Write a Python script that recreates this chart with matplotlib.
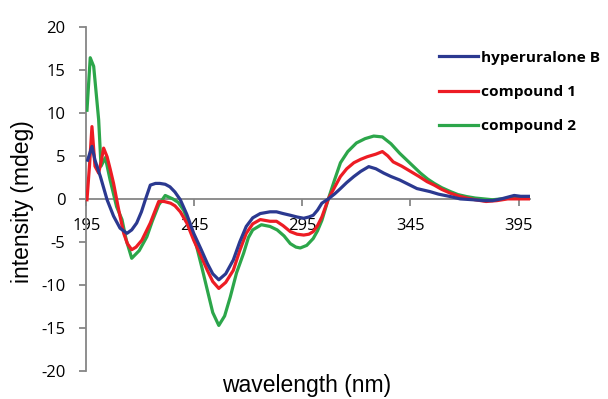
import matplotlib
matplotlib.use("Agg")
import matplotlib.pyplot as plt

plt.rcParams["axes.unicode_minus"] = False

# ---- data ----
hyp_wl = [195.6, 197.6, 199, 201.5, 204.6, 207.6, 210.6, 213.8, 216, 218.3, 220.5, 222.3, 224.6, 227, 229,
          231.5, 233.7, 236, 238.5, 241.5, 244.7, 248, 251, 253.5, 256.3, 259.5, 263, 266, 269, 272,
          275.5, 280, 283, 286, 289.4, 292.5, 295.6, 298, 300, 302, 304, 307, 310, 312.6, 315.5,
          318.8, 322, 325.7, 329, 332.6, 336, 340, 344, 348, 354, 358, 363.5, 368, 374, 379, 383,
          387, 390, 393, 396, 400]
hyp_val = [4.5, 6.1, 4.5, 2.6, -0.1, -2.0, -3.4, -4.0, -3.6, -2.8, -1.5, -0.1, 1.6, 1.8, 1.8,
           1.7, 1.4, 0.8, -0.1, -1.8, -4.0, -5.8, -7.5, -8.7, -9.4, -8.7, -7.1, -5.0, -3.2, -2.2,
           -1.7, -1.5, -1.5, -1.7, -1.9, -2.1, -2.25, -2.1, -1.9, -1.3, -0.5, 0.0, 0.6, 1.2, 1.9,
           2.6, 3.2, 3.75, 3.5, 3.0, 2.6, 2.2, 1.7, 1.2, 0.85, 0.55, 0.27, 0.0, -0.1, -0.2, -0.2,
           0.0, 0.2, 0.4, 0.3, 0.3]

c1_wl = [195.3, 196.5, 197.6, 199, 200.7, 202, 203, 204.6, 206, 207.6, 210, 212.3, 214, 216, 218,
         220.7, 224.6, 228.5, 231, 234, 236, 238.5, 241.5, 244.7, 248, 251, 253.5, 256.3, 259.5,
         263, 266, 269, 272, 275.5, 280, 283, 286, 289.4, 292.5, 295.6, 298, 300, 302, 304, 307,
         310, 312.6, 315.5, 318.8, 322, 325, 329, 332, 334.5, 337, 341, 345, 349, 352.7, 356,
         359.5, 363.5, 367, 371, 375, 380, 385, 390, 395, 400]
c1_val = [-0.1, 4.0, 8.4, 3.8, 3.0, 4.5, 5.9, 4.9, 3.5, 1.8, -1.3, -4.0, -5.2, -5.9, -5.6,
          -4.8, -2.8, -0.3, -0.3, -0.5, -0.8, -1.5, -2.8, -4.8, -6.6, -8.3, -9.6, -10.4, -9.7,
          -8.3, -6.0, -4.0, -2.9, -2.4, -2.6, -2.6, -3.1, -3.8, -4.1, -4.2, -4.1, -3.8, -3.1, -2.1, 0.0,
          1.4, 2.6, 3.5, 4.2, 4.6, 4.9, 5.2, 5.5, 5.0, 4.3, 3.8, 3.2, 2.6, 2.0, 1.6,
          1.1, 0.66, 0.35, 0.1, -0.1, -0.3, -0.2, 0.0, 0.0, 0.0]

c2_wl = [195.3, 196.8, 198.4, 200.7, 201.8, 203.8, 206, 209, 211.5, 213.5, 216, 219.5, 223, 225.5,
         228.5, 231.5, 235, 237.5, 240, 243, 246, 248.5, 251, 253.5, 256.3, 259, 261.6, 264.5,
         267.8, 270, 272, 276, 280, 283.3, 286.5, 289.4, 292, 294, 297, 300, 302, 304, 307, 310,
         312.6, 316, 320, 324, 328, 332, 336, 340, 345, 349.6, 353, 356, 359.5, 363.5, 367, 371,
         375, 379, 383, 387, 391, 394, 397, 400]
c2_val = [10.3, 16.4, 15.4, 9.2, 3.8, 4.8, 2.2, -0.9, -2.4, -4.8, -6.9, -6.0, -4.4, -2.6,
          -0.7, 0.4, 0.0, -0.4, -1.3, -3.2, -5.5, -8.0, -10.6, -13.2, -14.7, -13.6, -11.4, -8.6,
          -6.3, -4.5, -3.6, -3.0, -3.2, -3.6, -4.3, -5.2, -5.6, -5.7, -5.4, -4.6, -3.7, -2.5, 0.0, 2.3,
          4.2, 5.5, 6.5, 7.0, 7.3, 7.2, 6.4, 5.3, 4.1, 3.0, 2.3, 1.8, 1.3, 0.85, 0.5, 0.27,
          0.1, 0.0, -0.1, 0.0, 0.1, 0.27, 0.2, 0.1]

series_names = ["hyperuralone B", "compound 1", "compound 2"]
x_ticks = [195, 245, 295, 345, 395]
y_ticks = [-20, -15, -10, -5, 0, 5, 10, 15, 20]

# ---- figure ----
fig = plt.figure(figsize=(6.08, 3.99), dpi=100)
ax = fig.add_axes([0.142, 0.070, 0.730, 0.863])

colors = ["#2b3990", "#ed1c24", "#2ca64a"]
lw = 2.3
l1, = ax.plot(hyp_wl, hyp_val, color=colors[0], lw=lw, zorder=5, solid_joinstyle="round")
l2, = ax.plot(c1_wl, c1_val, color=colors[1], lw=lw, zorder=4, solid_joinstyle="round")
l3, = ax.plot(c2_wl, c2_val, color=colors[2], lw=lw, zorder=3, solid_joinstyle="round")

ax.set_xlim(195, 400.4)
ax.set_ylim(-20, 20)
ax.set_xticks(x_ticks)
ax.set_yticks(y_ticks)

gray = "#868686"
for s in ["top", "right"]:
    ax.spines[s].set_visible(False)
ax.spines["bottom"].set_position(("data", 0))
ax.spines["bottom"].set_color(gray)
ax.spines["left"].set_color(gray)
ax.spines["bottom"].set_linewidth(1.3)
ax.spines["left"].set_linewidth(1.3)

ax.tick_params(axis="both", colors=gray, length=5, width=1.3, direction="out")
ax.tick_params(axis="x", pad=9)
ax.tick_params(axis="y", pad=10)
for lab in ax.get_xticklabels() + ax.get_yticklabels():
    lab.set_fontfamily("Open Sans")
    lab.set_fontsize(12)
    lab.set_color("black")

fig.text(0.505, 0.035, "wavelength (nm)", ha="center", va="center",
         fontsize=16.5, family="Liberation Sans")
fig.text(0.037, 0.495, "intensity (mdeg)", ha="center", va="center", rotation=90,
         fontsize=16.5, family="Liberation Sans")

leg = ax.legend([l1, l2, l3], series_names, loc="upper left",
                bbox_to_anchor=(0.7220, 0.873), bbox_transform=fig.transFigure,
                frameon=False, handlelength=2.55, handletextpad=0.2, labelspacing=1.32,
                borderpad=0, borderaxespad=0,
                prop={"family": "Open Sans", "weight": "bold", "size": 11.1})

fig.savefig("out.png", dpi=100)
